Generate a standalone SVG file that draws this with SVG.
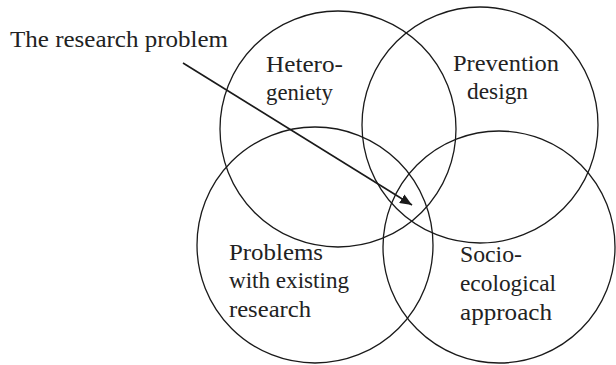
<svg xmlns="http://www.w3.org/2000/svg" width="616" height="365" viewBox="0 0 616 365">
  <style>
    .ring { fill: none; stroke: #1a1a1a; stroke-width: 1.3; }
    .label { font-size: 23px; fill: #222; }
    .link { fill: none; stroke: #1a1a1a; stroke-width: 1.6; }
  </style>
  <defs>
    <marker id="arrowhead" viewBox="0 0 12 10" refX="12" refY="5" markerWidth="12" markerHeight="10" markerUnits="userSpaceOnUse" orient="auto">
      <path d="M0,0 L12,5 L0,10 Z" fill="#1a1a1a"/>
    </marker>
  </defs>
  <rect width="616" height="365" fill="#fff"/>

  <g font-family="Liberation Serif, DejaVu Serif, serif">
    <g id="heterogeneity">
      <circle class="ring" cx="338" cy="129" r="118"/>
      <text class="label" x="266" y="72" textLength="77" lengthAdjust="spacingAndGlyphs">Hetero-</text>
      <text class="label" x="266" y="100" textLength="67" lengthAdjust="spacingAndGlyphs">geniety</text>
    </g>

    <g id="prevention-design">
      <circle class="ring" cx="480" cy="125" r="118"/>
      <text class="label" x="453" y="71" textLength="106" lengthAdjust="spacingAndGlyphs">Prevention</text>
      <text class="label" x="467" y="99" textLength="61" lengthAdjust="spacingAndGlyphs">design</text>
    </g>

    <g id="problems-existing-research">
      <circle class="ring" cx="315" cy="245" r="118"/>
      <text class="label" x="229" y="260" textLength="94" lengthAdjust="spacingAndGlyphs">Problems</text>
      <text class="label" x="229" y="288" textLength="120" lengthAdjust="spacingAndGlyphs">with existing</text>
      <text class="label" x="229" y="317" textLength="82" lengthAdjust="spacingAndGlyphs">research</text>
    </g>

    <g id="socio-ecological">
      <circle class="ring" cx="499" cy="247" r="116"/>
      <text class="label" x="460" y="262" textLength="62" lengthAdjust="spacingAndGlyphs">Socio-</text>
      <text class="label" x="460" y="291" textLength="96" lengthAdjust="spacingAndGlyphs">ecological</text>
      <text class="label" x="460" y="320" textLength="92" lengthAdjust="spacingAndGlyphs">approach</text>
    </g>

    <g id="research-problem">
      <text class="label" x="10" y="47" textLength="218" lengthAdjust="spacingAndGlyphs">The research problem</text>
    </g>
  </g>

  <g id="connectors">
    <line class="link" x1="183" y1="63" x2="412" y2="205" marker-end="url(#arrowhead)"/>
  </g>
</svg>
